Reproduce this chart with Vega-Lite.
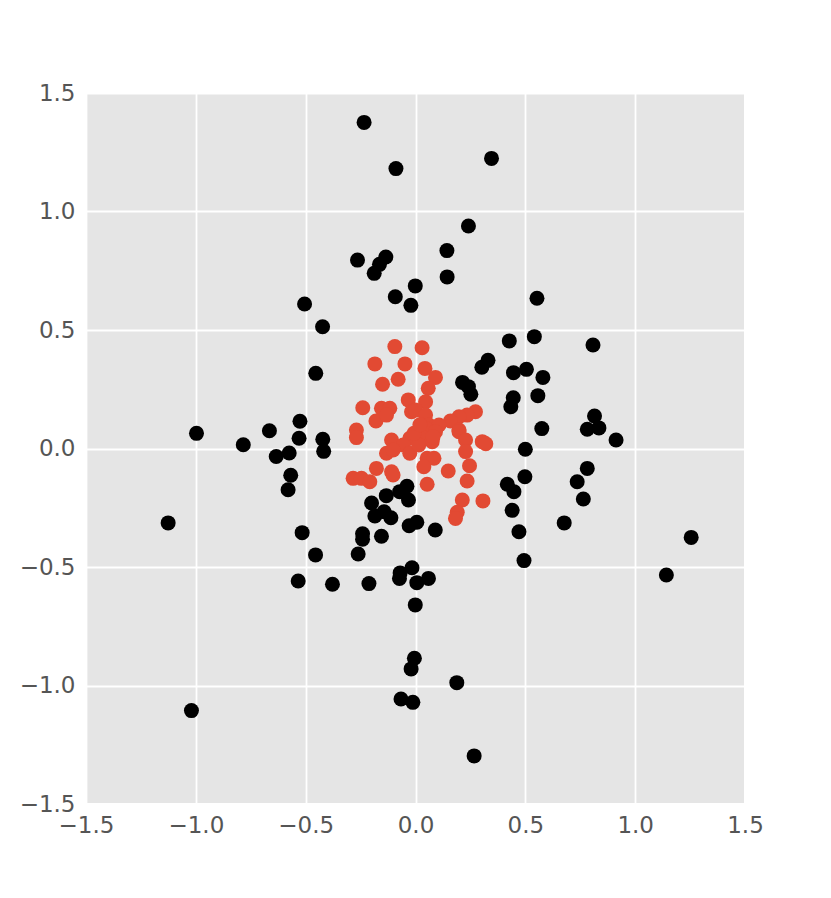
{
  "$schema": "https://vega.github.io/schema/vega-lite/v6.json",
  "width": 659,
  "height": 711,
  "autosize": {"type": "none"},
  "padding": {"left": 86, "top": 93, "right": 86, "bottom": 94},
  "background": "#FFFFFF",
  "config": {
    "font": "DejaVu Sans",
    "view": {"fill": "#E5E5E5", "stroke": "#FFFFFF", "strokeWidth": 2}
  },
  "data": {
    "values": [
      {"x": -0.234, "y": 1.376, "g": "outer"},
      {"x": -0.089, "y": 1.181, "g": "outer"},
      {"x": 0.346, "y": 1.224, "g": "outer"},
      {"x": 0.241, "y": 0.939, "g": "outer"},
      {"x": 0.143, "y": 0.835, "g": "outer"},
      {"x": 0.144, "y": 0.724, "g": "outer"},
      {"x": -0.264, "y": 0.795, "g": "outer"},
      {"x": -0.135, "y": 0.808, "g": "outer"},
      {"x": -0.164, "y": 0.777, "g": "outer"},
      {"x": -0.188, "y": 0.739, "g": "outer"},
      {"x": -0.001, "y": 0.686, "g": "outer"},
      {"x": -0.092, "y": 0.64, "g": "outer"},
      {"x": -0.021, "y": 0.604, "g": "outer"},
      {"x": -0.505, "y": 0.61, "g": "outer"},
      {"x": -0.423, "y": 0.514, "g": "outer"},
      {"x": -0.454, "y": 0.317, "g": "outer"},
      {"x": 0.553, "y": 0.634, "g": "outer"},
      {"x": 0.541, "y": 0.472, "g": "outer"},
      {"x": 0.427, "y": 0.454, "g": "outer"},
      {"x": 0.808, "y": 0.437, "g": "outer"},
      {"x": 0.33, "y": 0.372, "g": "outer"},
      {"x": 0.302, "y": 0.343, "g": "outer"},
      {"x": 0.446, "y": 0.32, "g": "outer"},
      {"x": 0.505, "y": 0.334, "g": "outer"},
      {"x": 0.58, "y": 0.3, "g": "outer"},
      {"x": 0.214, "y": 0.279, "g": "outer"},
      {"x": 0.241, "y": 0.261, "g": "outer"},
      {"x": 0.252, "y": 0.229, "g": "outer"},
      {"x": 0.445, "y": 0.214, "g": "outer"},
      {"x": 0.434, "y": 0.176, "g": "outer"},
      {"x": 0.557, "y": 0.223, "g": "outer"},
      {"x": 0.575, "y": 0.084, "g": "outer"},
      {"x": 0.815, "y": 0.137, "g": "outer"},
      {"x": 0.782, "y": 0.081, "g": "outer"},
      {"x": 0.835, "y": 0.087, "g": "outer"},
      {"x": 0.913, "y": 0.036, "g": "outer"},
      {"x": 0.5, "y": -0.003, "g": "outer"},
      {"x": 0.498, "y": -0.119, "g": "outer"},
      {"x": 0.782, "y": -0.084, "g": "outer"},
      {"x": 0.736, "y": -0.14, "g": "outer"},
      {"x": 0.764, "y": -0.213, "g": "outer"},
      {"x": 0.677, "y": -0.314, "g": "outer"},
      {"x": 0.418, "y": -0.151, "g": "outer"},
      {"x": 0.448, "y": -0.182, "g": "outer"},
      {"x": 0.44, "y": -0.261, "g": "outer"},
      {"x": 0.471, "y": -0.351, "g": "outer"},
      {"x": 0.494, "y": -0.473, "g": "outer"},
      {"x": 1.255, "y": -0.375, "g": "outer"},
      {"x": 1.142, "y": -0.534, "g": "outer"},
      {"x": 0.188, "y": -0.988, "g": "outer"},
      {"x": 0.267, "y": -1.297, "g": "outer"},
      {"x": 0.09, "y": -0.344, "g": "outer"},
      {"x": -0.997, "y": 0.064, "g": "outer"},
      {"x": -0.784, "y": 0.016, "g": "outer"},
      {"x": -0.665, "y": 0.075, "g": "outer"},
      {"x": -0.526, "y": 0.115, "g": "outer"},
      {"x": -0.53, "y": 0.043, "g": "outer"},
      {"x": -0.422, "y": 0.039, "g": "outer"},
      {"x": -0.418, "y": -0.012, "g": "outer"},
      {"x": -0.634, "y": -0.034, "g": "outer"},
      {"x": -0.575, "y": -0.019, "g": "outer"},
      {"x": -0.568, "y": -0.113, "g": "outer"},
      {"x": -0.58, "y": -0.174, "g": "outer"},
      {"x": -1.126, "y": -0.314, "g": "outer"},
      {"x": -0.516, "y": -0.355, "g": "outer"},
      {"x": -0.455, "y": -0.449, "g": "outer"},
      {"x": -0.534, "y": -0.559, "g": "outer"},
      {"x": -0.378, "y": -0.573, "g": "outer"},
      {"x": -0.261, "y": -0.445, "g": "outer"},
      {"x": -0.241, "y": -0.36, "g": "outer"},
      {"x": -0.241, "y": -0.383, "g": "outer"},
      {"x": -0.155, "y": -0.37, "g": "outer"},
      {"x": -0.212, "y": -0.57, "g": "outer"},
      {"x": -0.2, "y": -0.23, "g": "outer"},
      {"x": -0.133, "y": -0.199, "g": "outer"},
      {"x": -0.185, "y": -0.285, "g": "outer"},
      {"x": -0.143, "y": -0.267, "g": "outer"},
      {"x": -0.112, "y": -0.292, "g": "outer"},
      {"x": -0.072, "y": -0.182, "g": "outer"},
      {"x": -0.039, "y": -0.159, "g": "outer"},
      {"x": -0.032, "y": -0.217, "g": "outer"},
      {"x": -0.029, "y": -0.326, "g": "outer"},
      {"x": 0.006, "y": -0.311, "g": "outer"},
      {"x": -0.073, "y": -0.548, "g": "outer"},
      {"x": -0.07, "y": -0.525, "g": "outer"},
      {"x": -0.016, "y": -0.503, "g": "outer"},
      {"x": 0.006, "y": -0.566, "g": "outer"},
      {"x": 0.059, "y": -0.548, "g": "outer"},
      {"x": -0.001, "y": -0.66, "g": "outer"},
      {"x": -0.005, "y": -0.885, "g": "outer"},
      {"x": -0.02, "y": -0.93, "g": "outer"},
      {"x": -0.066, "y": -1.057, "g": "outer"},
      {"x": -0.012, "y": -1.071, "g": "outer"},
      {"x": -1.02, "y": -1.106, "g": "outer"},
      {"x": -0.094, "y": 0.43, "g": "inner"},
      {"x": -0.185, "y": 0.357, "g": "inner"},
      {"x": -0.048, "y": 0.357, "g": "inner"},
      {"x": -0.15, "y": 0.271, "g": "inner"},
      {"x": -0.079, "y": 0.292, "g": "inner"},
      {"x": -0.033, "y": 0.205, "g": "inner"},
      {"x": -0.24, "y": 0.172, "g": "inner"},
      {"x": -0.155, "y": 0.17, "g": "inner"},
      {"x": -0.117, "y": 0.17, "g": "inner"},
      {"x": -0.18, "y": 0.116, "g": "inner"},
      {"x": -0.132, "y": 0.141, "g": "inner"},
      {"x": -0.269, "y": 0.078, "g": "inner"},
      {"x": -0.269, "y": 0.046, "g": "inner"},
      {"x": -0.018, "y": 0.155, "g": "inner"},
      {"x": 0.03, "y": 0.425, "g": "inner"},
      {"x": 0.043, "y": 0.338, "g": "inner"},
      {"x": 0.091, "y": 0.3, "g": "inner"},
      {"x": 0.058, "y": 0.254, "g": "inner"},
      {"x": 0.046, "y": 0.197, "g": "inner"},
      {"x": 0.0, "y": 0.162, "g": "inner"},
      {"x": 0.046, "y": 0.141, "g": "inner"},
      {"x": 0.273, "y": 0.155, "g": "inner"},
      {"x": 0.235, "y": 0.141, "g": "inner"},
      {"x": 0.198, "y": 0.134, "g": "inner"},
      {"x": 0.159, "y": 0.116, "g": "inner"},
      {"x": 0.061, "y": 0.099, "g": "inner"},
      {"x": 0.107, "y": 0.099, "g": "inner"},
      {"x": 0.198, "y": 0.078, "g": "inner"},
      {"x": -0.109, "y": 0.036, "g": "inner"},
      {"x": -0.026, "y": 0.043, "g": "inner"},
      {"x": -0.056, "y": 0.015, "g": "inner"},
      {"x": -0.132, "y": -0.02, "g": "inner"},
      {"x": -0.102, "y": -0.006, "g": "inner"},
      {"x": -0.026, "y": -0.02, "g": "inner"},
      {"x": -0.178, "y": -0.084, "g": "inner"},
      {"x": -0.109, "y": -0.098, "g": "inner"},
      {"x": -0.102, "y": -0.112, "g": "inner"},
      {"x": -0.284, "y": -0.126, "g": "inner"},
      {"x": -0.246, "y": -0.126, "g": "inner"},
      {"x": -0.208, "y": -0.14, "g": "inner"},
      {"x": 0.046, "y": 0.085, "g": "inner"},
      {"x": 0.091, "y": 0.071, "g": "inner"},
      {"x": 0.198, "y": 0.071, "g": "inner"},
      {"x": 0.228, "y": 0.036, "g": "inner"},
      {"x": 0.304, "y": 0.029, "g": "inner"},
      {"x": 0.046, "y": 0.043, "g": "inner"},
      {"x": 0.076, "y": 0.029, "g": "inner"},
      {"x": 0.015, "y": 0.015, "g": "inner"},
      {"x": 0.228, "y": -0.013, "g": "inner"},
      {"x": 0.053, "y": -0.041, "g": "inner"},
      {"x": 0.084, "y": -0.041, "g": "inner"},
      {"x": 0.038, "y": -0.077, "g": "inner"},
      {"x": 0.149, "y": -0.095, "g": "inner"},
      {"x": 0.246, "y": -0.073, "g": "inner"},
      {"x": 0.235, "y": -0.137, "g": "inner"},
      {"x": 0.053, "y": -0.151, "g": "inner"},
      {"x": 0.213, "y": -0.217, "g": "inner"},
      {"x": 0.19, "y": -0.269, "g": "inner"},
      {"x": 0.182, "y": -0.295, "g": "inner"},
      {"x": 0.307, "y": -0.221, "g": "inner"},
      {"x": -0.007, "y": 0.064, "g": "inner"},
      {"x": 0.02, "y": 0.1, "g": "inner"},
      {"x": 0.08, "y": 0.05, "g": "inner"},
      {"x": 0.32, "y": 0.02, "g": "inner"}
    ]
  },
  "mark": {"type": "point", "filled": true, "opacity": 1, "size": 225},
  "encoding": {
    "x": {
      "field": "x", "type": "quantitative",
      "scale": {"domain": [-1.5, 1.5], "nice": false, "zero": false},
      "axis": {
        "title": null, "values": [-1.5, -1, -0.5, 0, 0.5, 1, 1.5], "format": ".1f",
        "domain": false, "ticks": false, "grid": true, "gridColor": "#FFFFFF", "gridWidth": 1.8,
        "labelFlush": false, "labelOverlap": false,
        "labelFont": "DejaVu Sans", "labelFontSize": 23, "labelColor": "#555555", "labelPadding": 10
      }
    },
    "y": {
      "field": "y", "type": "quantitative",
      "scale": {"domain": [-1.5, 1.5], "nice": false, "zero": false},
      "axis": {
        "title": null, "values": [-1.5, -1, -0.5, 0, 0.5, 1, 1.5], "format": ".1f",
        "domain": false, "ticks": false, "grid": true, "gridColor": "#FFFFFF", "gridWidth": 1.8,
        "labelFlush": false, "labelOverlap": false,
        "labelFont": "DejaVu Sans", "labelFontSize": 23, "labelColor": "#555555", "labelPadding": 11
      }
    },
    "color": {"field": "g", "type": "nominal", "scale": {"domain": ["outer", "inner"], "range": ["#000000", "#E24A33"]}, "legend": null}
  }
}
